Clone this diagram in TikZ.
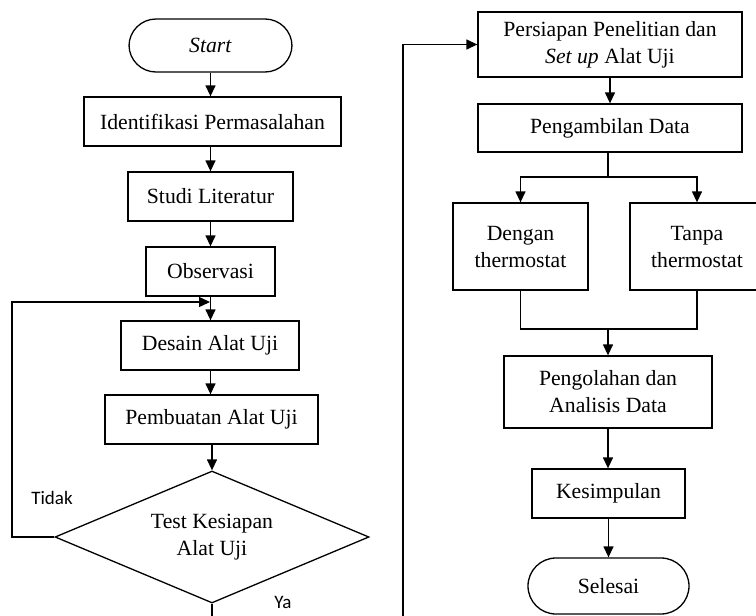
\documentclass[tikz,border=0pt]{standalone}
\usepackage{fontspec}
\setmainfont{Liberation Serif}
\newfontfamily\labelfont{Carlito}
\usetikzlibrary{shapes.geometric,arrows.meta}

\begin{document}
\begin{tikzpicture}[x=0.5pt,y=-0.5pt,line width=0.65pt,
    font=\fontsize{10.85}{13.5}\selectfont,
    box/.style = {draw, rectangle, align=center, inner sep=2pt},
    term/.style = {draw, rectangle, align=center, rounded corners=13.5pt},
    test/.style = {draw, diamond, aspect=2.38, align=center, inner sep=0pt, minimum width=157pt, minimum height=66pt},
    arr/.style = {-{Triangle[length=5.5pt,width=5pt]}},
    lbl/.style = {font=\labelfont\fontsize{9.5}{11}\selectfont, inner sep=0pt}]
                \clip (0,0) rectangle (756,616);
                % left column
                \node[term, minimum width=81.5pt, minimum height=26.5pt] (1) at (210.5,45.5) {\textit{Start}};
                \node[box, minimum width=128.5pt, minimum height=24.5pt] (2) at (212.5,121.5) {Identifikasi Permasalahan};
                \node[box, minimum width=82.5pt, minimum height=24.5pt] (3) at (210.5,196.5) {Studi Literatur};
                \node[box, minimum width=64.5pt, minimum height=24.5pt] (4) at (210.5,271.5) {Observasi};
                \node[box, minimum width=89pt, minimum height=24.5pt] (5) at (210,345.5) {Desain Alat Uji};
                \node[box, minimum width=106.5pt, minimum height=24.5pt] (6) at (211.5,419.5) {Pembuatan Alat Uji};
                \node[test] (7) at (212,537) {Test Kesiapan\\Alat Uji};
                % right column
                \node[box, minimum width=132pt, minimum height=32.5pt] (8) at (610,44.5) {Persiapan Penelitian dan\\\textit{Set up} Alat Uji};
                \node[box, minimum width=132pt, minimum height=24pt] (9) at (610,128) {Pengambilan Data};
                \node[box, minimum width=67.5pt, minimum height=43.5pt] (10) at (520.5,246.5) {Dengan\\thermostat};
                \node[box, minimum width=67pt, minimum height=43.5pt] (11) at (697,246.5) {Tanpa\\thermostat};
                \node[box, minimum width=104pt, minimum height=36pt] (12) at (608,392) {Pengolahan dan\\Analisis Data};
                \node[box, minimum width=76.5pt, minimum height=24.5pt] (13) at (608.5,493.5) {Kesimpulan};
                \node[term, rounded corners=14pt, minimum width=80.5pt, minimum height=28pt] (14) at (608.5,586) {Selesai};
                % labels
                \node[lbl] (tidak) at (52,498) {Tidak};
                \node[lbl, anchor=north] (ya) at (283,596) {Ya};
                % helper points
                \coordinate (back) at (12,302);
                \coordinate (join) at (210,302);
                \coordinate (low) at (403,640);
                \coordinate (split) at (608,177);
                \coordinate (merge) at (608,329);
                \path[arr]
                    (1.south) edge (1.south |- 2.north)
                    (2.south -| 1.south) edge (1.south |- 3.north)
                    (3.south) edge (4.north)
                    (4.south) edge (4.south |- 5.north)
                    (5.south -| 4.south) edge (4.south |- 6.north)
                    (6.south -| 7.north) edge (7.north)
                    (8.south) edge (9.north)
                    (13.south) edge (14.north);
                \draw[arr] (7.west) -| (back) -- (join);
                \draw[arr] (7.south) |- (low) -- (low |- 8.west) -- (8.west);
                \draw (9.south -| split) -- (split);
                \draw[arr] (split) -| (10.north);
                \draw[arr] (split) -| (11.north);
                \draw (10.south) |- (merge) -| (11.south);
                \draw[arr] (merge) -- (12.north -| merge);
                \draw[arr] (12.south -| merge) -- (13.north -| merge);
            \end{tikzpicture}
\end{document}
